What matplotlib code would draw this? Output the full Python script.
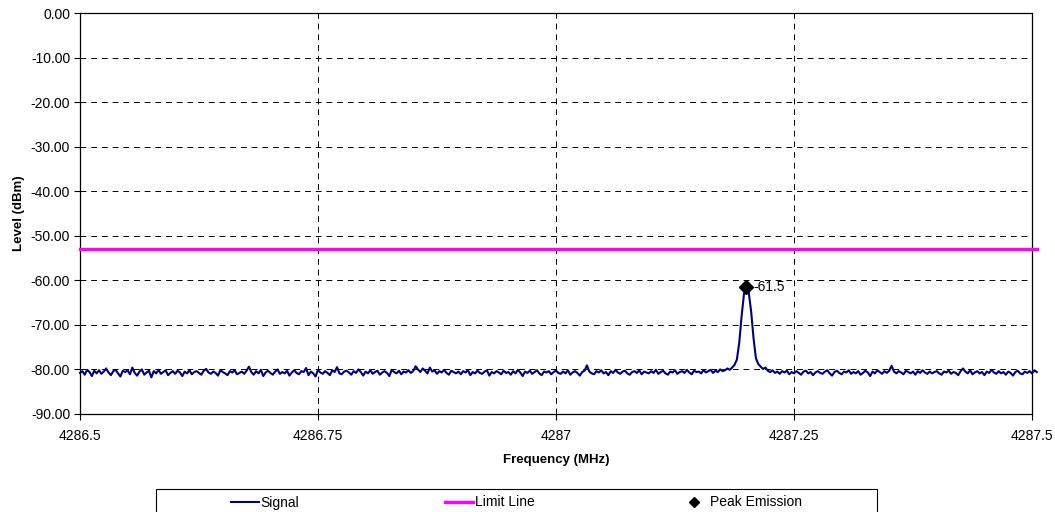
import numpy as np
import matplotlib.pyplot as plt
from matplotlib.lines import Line2D
from matplotlib.patches import Rectangle

plt.rcParams['font.family'] = ['Liberation Sans', 'DejaVu Sans']

# Sweep: 4286.5 MHz upward in 2.5 kHz steps (trace runs slightly past 4287.5)
freq_start = 4286.5
freq_step = 0.0025

signal_dbm = [
    -80.8, -80.4, -81.2, -80.1, -80.6, -81.5, -80.3, -80.9, -80.2, -81.0, -80.5, -79.8, -80.7, -81.3, -80.4, -80.1, -80.9, -81.6, -80.3, -80.6,
    -80.2, -81.1, -79.6, -80.8, -81.4, -80.5, -80.0, -81.2, -80.7, -80.3, -81.8, -80.4, -80.9, -80.1, -81.0, -80.6, -80.2, -81.3, -80.8, -80.4,
    -81.0, -80.3, -80.7, -81.5, -80.5, -80.9, -80.2, -81.1, -80.6, -80.4, -80.8, -81.2, -80.3, -79.9, -80.7, -81.0, -80.5, -80.8, -81.4, -80.2,
    -80.6, -80.9, -81.3, -80.4, -80.7, -80.2, -81.1, -80.8, -80.5, -81.0, -80.3, -79.4, -80.6, -81.2, -80.4, -80.9, -80.1, -81.5, -80.7, -80.3,
    -80.8, -81.2, -80.5, -80.0, -81.0, -80.6, -80.9, -80.3, -81.4, -80.7, -80.2, -80.8, -81.1, -80.4, -80.6, -79.7, -81.3, -80.5, -80.9, -81.6,
    -80.1, -80.7, -81.0, -80.4, -80.8, -81.3, -80.2, -80.6, -79.5, -80.9, -81.1, -80.5, -80.3, -80.7, -81.2, -80.4, -80.8, -80.0, -80.6, -81.4,
    -80.5, -80.9, -80.2, -81.0, -80.6, -80.3, -81.2, -80.7, -80.4, -80.8, -81.5, -80.1, -80.6, -80.9, -80.3, -81.1, -80.5, -80.7, -80.2, -80.8,
    -80.4, -79.3, -80.0, -80.6, -79.8, -80.3, -80.9, -79.6, -80.5, -80.2, -81.0, -80.4, -80.7, -80.1, -80.8, -81.2, -80.3, -80.6, -80.9, -80.5,
    -81.1, -80.4, -80.7, -80.2, -81.3, -80.6, -80.9, -80.3, -80.8, -81.0, -80.5, -80.2, -81.4, -80.6, -80.9, -80.4, -80.7, -81.1, -80.3, -80.8,
    -80.6, -81.2, -80.4, -80.9, -80.1, -80.7, -81.5, -80.5, -80.8, -80.3, -81.0, -80.6, -80.2, -80.9, -81.3, -80.5, -80.7, -80.4, -81.1, -80.6,
    -80.3, -80.8, -81.0, -80.5, -80.9, -80.2, -81.2, -80.7, -80.4, -80.8, -81.4, -80.6, -80.3, -79.1, -80.5, -80.9, -81.1, -80.4, -80.7, -80.2,
    -80.9, -80.6, -81.3, -80.4, -80.8, -80.1, -80.7, -81.0, -80.5, -80.3, -80.9, -81.2, -80.6, -80.4, -80.8, -80.2, -81.1, -80.5, -80.7, -80.9,
    -80.4, -80.8, -80.1, -81.0, -80.6, -80.3, -80.9, -81.2, -80.5, -80.7, -80.2, -81.0, -80.6, -80.4, -80.8, -80.1, -80.7, -81.1, -80.3, -80.6,
    -80.5, -80.9, -80.2, -80.7, -80.4, -80.1, -80.8, -80.3, -80.6, -80.0, -80.4, -80.2, -79.8, -80.1, -79.6, -79.0, -77.8, -74.0, -68.0, -63.0,
    -61.5, -62.8, -67.0, -73.0, -77.5, -78.8, -79.4, -79.9, -79.6, -80.3, -80.6, -80.2, -80.8, -80.5, -81.0, -80.4, -80.7, -80.3, -81.1, -80.6,
    -80.9, -80.4, -80.8, -81.2, -80.5, -80.3, -80.9, -80.6, -81.3, -80.7, -80.4, -80.8, -81.0, -80.5, -80.2, -80.9, -81.4, -80.6, -80.3, -80.8,
    -81.1, -80.5, -80.7, -80.2, -81.0, -80.6, -80.9, -80.4, -81.2, -80.8, -80.3, -80.7, -81.5, -80.5, -80.9, -80.2, -80.6, -81.0, -80.4, -80.8,
    -80.3, -79.2, -80.5, -80.9, -80.4, -80.7, -81.1, -80.3, -80.6, -80.9, -80.5, -81.2, -80.4, -80.8, -80.2, -80.7, -81.0, -80.5, -80.9, -80.6,
    -80.4, -80.9, -81.2, -80.5, -80.7, -80.3, -81.0, -80.6, -80.8, -81.3, -80.4, -79.8, -80.5, -80.9, -80.2, -81.1, -80.7, -80.4, -80.9, -80.6,
    -81.3, -80.5, -80.8, -80.1, -80.7, -81.0, -80.4, -80.9, -80.6, -81.2, -80.5, -80.8, -81.4, -80.6, -80.3, -80.9, -81.1, -80.5, -80.8, -80.4,
    -80.9, -80.2, -80.6,
]

limit_dbm = -53.0
peak_freq = 4287.2
peak_dbm = -61.5

x_ticks = [4286.5, 4286.75, 4287, 4287.25, 4287.5]
x_tick_labels = ['4286.5', '4286.75', '4287', '4287.25', '4287.5']
y_ticks = [0, -10, -20, -30, -40, -50, -60, -70, -80, -90]

freq = freq_start + freq_step * np.arange(len(signal_dbm))

fig = plt.figure(figsize=(10.55, 5.12), dpi=100)
ax = fig.add_axes([0.0758, 0.1916, 0.9024, 0.7828])

ax.plot(freq, signal_dbm, color='#000080', lw=1.5, clip_on=False, zorder=3)
ax.plot([freq_start, freq[-1]], [limit_dbm, limit_dbm], color='#FF00FF', lw=2.4,
        clip_on=False, zorder=3)
ax.plot([peak_freq], [peak_dbm], marker='D', color='black', ms=7, ls='none', zorder=4)
ax.annotate(f'{peak_dbm}', (peak_freq, peak_dbm), xytext=(5, 0), textcoords='offset points',
            va='center', ha='left', fontsize=10)

ax.set_xlim(4286.5, 4287.5)
ax.set_ylim(-90, 0)
ax.set_xticks(x_ticks)
ax.set_xticklabels(x_tick_labels, fontsize=10)
ax.set_yticks(y_ticks)
ax.set_yticklabels([f'{v:.2f}' for v in y_ticks], fontsize=10)
ax.tick_params(axis='y', direction='out', length=4, width=0.8, pad=3)
ax.tick_params(axis='x', direction='out', length=4, width=0.8, pad=7)

ax.grid(True, color='black', ls=(0, (6, 5)), lw=0.7)
for s in ax.spines.values():
    s.set_color('black')
    s.set_linewidth(0.9)

ax.set_xlabel('Frequency (MHz)', fontsize=9.5, fontweight='bold', labelpad=8)
ax.set_ylabel('Level (dBm)', fontsize=9.5, fontweight='bold', labelpad=4)

# legend: entries centred, box drawn separately (it runs off the bottom edge)
handles = [
    Line2D([], [], color='#000080', lw=1.5),
    Line2D([], [], color='#FF00FF', lw=2.4),
    Line2D([], [], color='black', marker='D', ms=5, ls='none'),
]
fig.legend(handles, ['Signal', 'Limit Line', 'Peak Emission'], ncol=3,
           loc='center', bbox_to_anchor=(516.5 / 1055, 9.5 / 512),
           fontsize=10, frameon=False, handlelength=2.0, handletextpad=0.12,
           columnspacing=10.5, borderpad=0, borderaxespad=0)
fig.patches.append(Rectangle((156 / 1055, -0.02), (877 - 156) / 1055, 23 / 512 + 0.02,
                             transform=fig.transFigure, fill=False, ec='black', lw=0.8))

fig.savefig('out.png', dpi=100)
